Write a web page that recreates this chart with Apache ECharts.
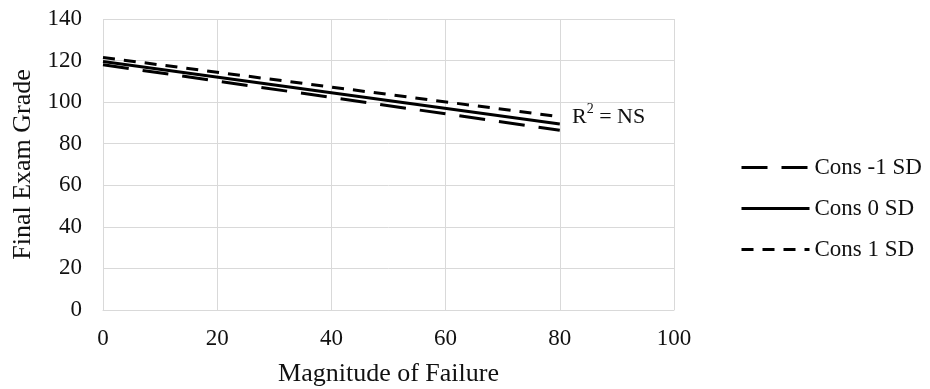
<!DOCTYPE html>
<html>
<head>
<meta charset="utf-8">
<script src="https://cdn.jsdelivr.net/npm/echarts@6/dist/echarts.min.js"></script>
<style>
  html, body { margin: 0; padding: 0; background: #fff; }
  #chart { width: 930px; height: 389px; }
</style>
</head>
<body>
<div id="chart"></div>
<script>
// x range each regression line spans
const xEnds = [0, 80]
const seriesNames = ['Cons -1 SD', 'Cons 0 SD', 'Cons 1 SD']
// predicted grade at x = 0 and x = 80
const consMinus1 = [118, 86.5]
const cons0 = [119.5, 89.5]
const consPlus1 = [121.5, 93]
const yTicks = [0, 20, 40, 60, 80, 100, 120, 140]
const xTicks = [0, 20, 40, 60, 80, 100]

const font = '"Liberation Serif", "Times New Roman", serif'
const dashes = [[26, 14], 'solid', [12, 9]]
const toPoints = vals => xEnds.map((x, i) => [x, vals[i]])

const chart = echarts.init(document.getElementById('chart'))

const lineSeries = (name, vals, dash) => ({
  name,
  type: 'line',
  data: toPoints(vals),
  symbol: 'none',
  silent: true,
  lineStyle: { color: '#000', width: 3, type: dash },
  itemStyle: { color: '#000' }
})

const option = {
  animation: false,
  grid: { left: 103, right: 256, top: 19, bottom: 79, outerBoundsMode: 'none' },
  xAxis: {
    type: 'value',
    min: xTicks[0],
    max: xTicks[xTicks.length - 1],
    interval: 20,
    name: 'Magnitude of Failure',
    nameLocation: 'middle',
    nameGap: 51,
    nameTextStyle: { fontFamily: font, fontSize: 26, color: '#111' },
    axisLine: { show: true, lineStyle: { color: '#d9d9d9', width: 1 } },
    axisTick: { show: false },
    axisLabel: { fontFamily: font, fontSize: 23, color: '#111', margin: 17 },
    splitLine: { show: true, lineStyle: { color: '#d9d9d9', width: 1 } }
  },
  yAxis: {
    type: 'value',
    min: yTicks[0],
    max: yTicks[yTicks.length - 1],
    interval: 20,
    name: 'Final Exam Grade',
    nameLocation: 'middle',
    nameGap: 66,
    nameTextStyle: { fontFamily: font, fontSize: 26, color: '#111' },
    axisLine: { show: false },
    axisTick: { show: false },
    axisLabel: { fontFamily: font, fontSize: 23, color: '#111', margin: 21 },
    splitLine: { show: true, lineStyle: { color: '#d9d9d9', width: 1 } }
  },
  legend: {
    orient: 'vertical',
    left: 735,
    top: 151,
    itemWidth: 68,
    itemHeight: 24,
    itemGap: 18,
    itemStyle: { opacity: 0 },
    textStyle: { fontFamily: font, fontSize: 23, color: '#111' },
    data: seriesNames.map((name, i) => ({
      name,
      lineStyle: { color: '#000', width: 3, type: dashes[i] }
    }))
  },
  graphic: [{
    type: 'text',
    left: 572,
    top: 102,
    style: {
      text: '{n|R}{s|2}{n| = NS}',
      rich: {
        n: { fontFamily: font, fontSize: 22, fill: '#111', lineHeight: 26, verticalAlign: 'bottom' },
        s: { fontFamily: font, fontSize: 14, fill: '#111', lineHeight: 14, verticalAlign: 'top' }
      }
    }
  }],
  series: seriesNames.map((name, i) =>
    lineSeries(name, [consMinus1, cons0, consPlus1][i], dashes[i]))
}

chart.setOption(option)
</script>
</body>
</html>
